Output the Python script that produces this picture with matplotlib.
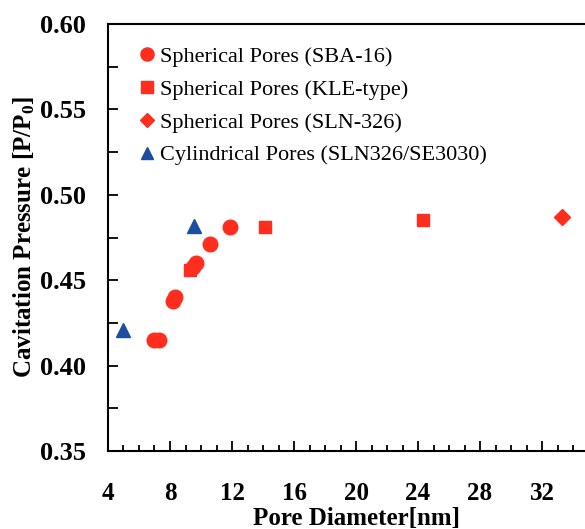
import numpy as np
import matplotlib
matplotlib.use('Agg')
import matplotlib.pyplot as plt
from matplotlib.ticker import MultipleLocator, FormatStrFormatter

# datos
sba16_d = [7.0, 7.3, 8.2, 8.3, 9.5, 9.7, 10.6, 11.9]
sba16_p = [0.415, 0.415, 0.438, 0.440, 0.458, 0.460, 0.471, 0.481]
kle_d = [9.3, 14.1, 24.3]
kle_p = [0.456, 0.481, 0.485]
sln_d = [33.3]
sln_p = [0.487]
cyl_d = [5.0, 9.55]
cyl_p = [0.421, 0.482]

rojo = '#FF2D1E'
azul = '#1C4DA1'

plt.rcParams['font.family'] = ['Liberation Serif', 'DejaVu Serif']
plt.rcParams['mathtext.fontset'] = 'custom'
plt.rcParams['mathtext.rm'] = 'Liberation Serif:bold'
plt.rcParams['mathtext.it'] = 'Liberation Serif:bold'
plt.rcParams['mathtext.bf'] = 'Liberation Serif:bold'

fig = plt.figure(figsize=(5.85, 5.29), dpi=100)
ax = fig.add_axes([0.1846, 0.1474, 0.848, 0.8072])

ax.plot(sba16_d, sba16_p, 'o', color=rojo, markersize=10.5, label='Spherical Pores (SBA-16)')
ax.plot(kle_d, kle_p, 's', color=rojo, markersize=9, label='Spherical Pores (KLE-type)')
ax.plot(sln_d, sln_p, 'D', color=rojo, markersize=8, label='Spherical Pores (SLN-326)')
ax.plot(cyl_d, cyl_p, '^', color=azul, markersize=10, label='Cylindrical Pores (SLN326/SE3030)')

ax.set_xlim(4, 36)
ax.set_ylim(0.35, 0.60)
ax.xaxis.set_major_locator(MultipleLocator(4))
ax.xaxis.set_minor_locator(MultipleLocator(1))
ax.yaxis.set_major_locator(MultipleLocator(0.05))
ax.yaxis.set_minor_locator(MultipleLocator(0.025))
ax.set_xticks([4, 8, 12, 16, 20, 24, 28, 32])
ax.yaxis.set_major_formatter(FormatStrFormatter('%.2f'))

for s in ['top', 'left', 'bottom']:
    ax.spines[s].set_linewidth(1.5)
ax.spines['right'].set_visible(False)
ax.tick_params(axis='both', which='both', direction='in', width=1.3, top=False, right=False)
ax.tick_params(axis='x', which='major', length=7, pad=22, labelsize=18)
ax.tick_params(axis='x', which='minor', length=4)
ax.tick_params(axis='y', which='major', length=7, pad=16, labelsize=19)
ax.tick_params(axis='y', which='minor', length=7)
for lbl in ax.get_xticklabels() + ax.get_yticklabels():
    lbl.set_fontweight('bold')

ax.set_xlabel('Pore Diameter[nm]', fontsize=18, fontweight='bold', labelpad=2)
ax.set_ylabel('Cavitation Pressure [P/P$_0$]', fontsize=18, fontweight='bold', labelpad=2)

ax.legend(loc='upper left', bbox_to_anchor=(0.02, 0.984), frameon=False, fontsize=16,
          handletextpad=0.0, handlelength=1.2, labelspacing=0.55, borderaxespad=0.3,
          markerscale=0.9)

fig.savefig('out.png', dpi=100)
